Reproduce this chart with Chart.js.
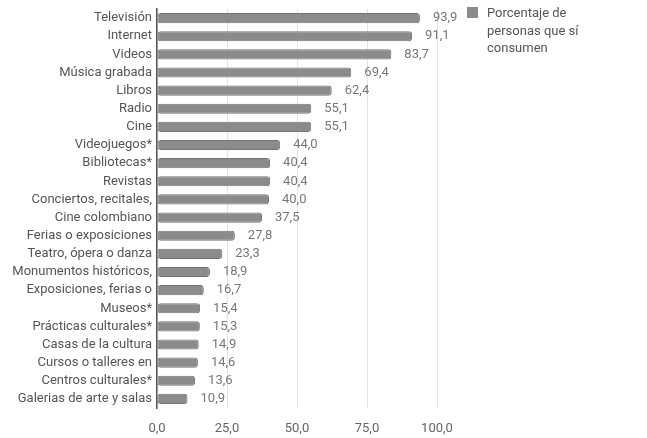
<!DOCTYPE html>
<html>
<head>
<meta charset="utf-8">
<script src="https://cdn.jsdelivr.net/npm/chart.js@4/dist/chart.umd.min.js"></script>
<style>
	body { margin: 0; background: #fff; }
	#wrap { position: relative; width: 647px; height: 438px; }
	#legend { position: absolute; left: 467px; top: 4px; font: 13px Roboto, sans-serif; color: #555; line-height: 17.5px; }
	#legend .box { position: absolute; left: 0; top: 3px; width: 11px; height: 11px; }
	#legend .txt { margin-left: 20px; }
</style>
</head>
<body>
<div id="wrap">
	<canvas id="grafico"></canvas>
	<div id="legend"></div>
</div>
<script>
const categorias = [
	'Televisión', 'Internet', 'Videos', 'Música grabada', 'Libros', 'Radio', 'Cine',
	'Videojuegos*', 'Bibliotecas*', 'Revistas', 'Conciertos, recitales,', 'Cine colombiano',
	'Ferias o exposiciones', 'Teatro, ópera o danza', 'Monumentos históricos,',
	'Exposiciones, ferias o', 'Museos*', 'Prácticas culturales*', 'Casas de la cultura',
	'Cursos o talleres en', 'Centros culturales*', 'Galerias de arte y salas'
];
const porcentajes = [93.9, 91.1, 83.7, 69.4, 62.4, 55.1, 55.1, 44.0, 40.4, 40.4, 40.0, 37.5,
	27.8, 23.3, 18.9, 16.7, 15.4, 15.3, 14.9, 14.6, 13.6, 10.9];
const ticksX = [0, 25, 50, 75, 100];
const leyenda = ['Porcentaje de', 'personas que sí', 'consumen'];

const colorBarra = '#8b8b8b';
const fmt = v => v.toFixed(1).replace('.', ',');

// etiquetas de valor al final de cada barra
const etiquetas = {
	id: 'etiquetas',
	afterDatasetsDraw(chart) {
		const ctx = chart.ctx;
		const meta = chart.getDatasetMeta(0);
		ctx.save();
		ctx.font = '13px Roboto';
		ctx.fillStyle = '#777';
		ctx.textBaseline = 'middle';
		ctx.textAlign = 'left';
		meta.data.forEach((bar, i) => {
			ctx.fillText(fmt(porcentajes[i]), bar.x + 13, bar.y);
		});
		ctx.restore();
	}
};

const ctx = document.getElementById('grafico').getContext('2d');
const myChart = new Chart(ctx, {
	type: 'bar',
	data: {
		labels: categorias,
		datasets: [{
			label: leyenda.join(' '),
			data: porcentajes,
			backgroundColor: colorBarra,
			borderColor: '#747474',
			borderWidth: 1,
			borderRadius: 3,
			borderSkipped: false,
			barPercentage: 0.56,
			categoryPercentage: 1
		}]
	},
	options: {
		indexAxis: 'y',
		responsive: true,
		maintainAspectRatio: false,
		animation: false,
		layout: { padding: { top: 9, right: 210, left: 0, bottom: 0 } },
		plugins: {
			legend: { display: false },
			tooltip: { enabled: false }
		},
		scales: {
			x: {
				min: 0,
				max: 100,
				afterBuildTicks: s => { s.ticks = ticksX.map(v => ({ value: v })); },
				afterFit: s => { s.height = 30; },
				grid: { color: '#e3e3e3', drawTicks: false },
				border: { display: false },
				ticks: {
					padding: 13,
					color: '#666',
					font: { family: 'Roboto', size: 13 },
					callback: v => fmt(v)
				}
			},
			y: {
				afterFit: s => { s.width = 157; s.paddingTop = 0; s.paddingBottom = 0; },
				grid: { display: false, drawTicks: false },
				border: { color: '#555', width: 1.5 },
				ticks: {
					autoSkip: false,
					padding: 5,
					color: '#555',
					font: { family: 'Roboto', size: 13 }
				}
			}
		}
	},
	plugins: [etiquetas]
});

// leyenda en HTML
const legendEl = document.getElementById('legend');
legendEl.innerHTML = '<span class="box" style="background:' + colorBarra + '"></span>' +
	'<div class="txt">' + leyenda.join('<br>') + '</div>';
</script>
</body>
</html>
